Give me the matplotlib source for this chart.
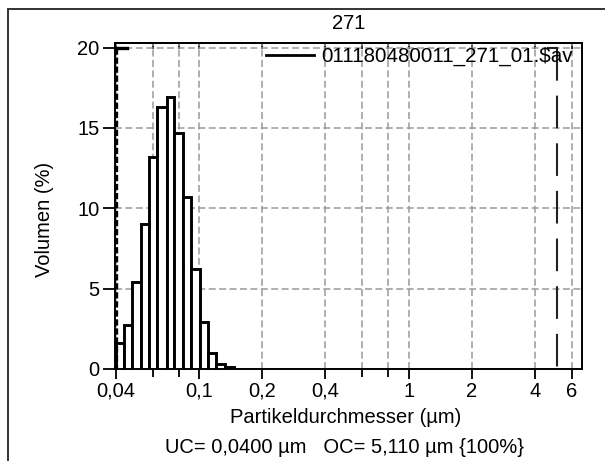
# encoding: utf-8
"""
Particle size distribution (volume %) for sample 271.
"""

import matplotlib
matplotlib.use('Agg')
import matplotlib.pyplot as plt
from matplotlib.patches import Rectangle
from matplotlib.ticker import FixedLocator, NullFormatter

plt.rcParams['font.family'] = ['Liberation Sans', 'DejaVu Sans']
plt.rcParams['lines.scale_dashes'] = False

# Bin edges (µm) and volume per class (%)
bin_edges = [0.040, 0.044, 0.048, 0.053, 0.058, 0.063, 0.070, 0.076,
             0.084, 0.092, 0.101, 0.110, 0.121, 0.133, 0.146]
volume = [1.6, 2.7, 5.4, 9.0, 13.2, 16.3, 16.9, 14.7, 10.7, 6.2, 2.9, 1.0, 0.3, 0.1]

major_ticks = [0.04, 0.1, 0.2, 0.4, 1, 2, 4, 6]
major_labels = ['0,04', '0,1', '0,2', '0,4', '1', '2', '4', '6']
minor_ticks = [0.06, 0.08, 0.6, 0.8]
y_ticks = [0, 5, 10, 15, 20]

uc_value = 0.04
oc_value = 5.11
series_name = '011180480011_271_01.$av'

FS = 14.5

fig = plt.figure(figsize=(6.05, 4.61), dpi=100)
ax = fig.add_axes([0.190, 0.200, 0.772, 0.707])

# histogram bars
lefts = bin_edges[:-1]
widths = [b - a for a, b in zip(bin_edges[:-1], bin_edges[1:])]
ax.bar(lefts, volume, width=widths, align='edge', facecolor='white',
       edgecolor='black', linewidth=2.1, zorder=3)

# UC / OC markers (with small caps at the top)
ax.plot([uc_value, uc_value], [20, 0], color='black', linewidth=2.4,
        linestyle=(0, (4.5, 2)), zorder=4)
ax.plot([uc_value, 0.0455], [20, 20], color='black', linewidth=2.4, zorder=4)
ax.plot([oc_value, oc_value], [20, 0], color='#222222', linewidth=1.5,
        linestyle=(0, (23.5, 10.8)), zorder=4)
ax.plot([4.62, oc_value], [20, 20], color='#222222', linewidth=1.5, zorder=4)

# legend entry
ax.plot([], [], '-', color='black', linewidth=2, label=series_name)
ax.legend(loc='upper right', bbox_to_anchor=(0.998, 1.012), frameon=False,
          handlelength=2.3, handletextpad=0.38, borderaxespad=0.0,
          fontsize=14.8)

ax.set_xscale('log')
ax.set_xlim(0.0397, 6.7)
ax.set_ylim(0, 20.3)

ax.xaxis.set_major_locator(FixedLocator(major_ticks))
ax.set_xticklabels(major_labels)
ax.xaxis.set_minor_locator(FixedLocator(minor_ticks))
ax.xaxis.set_minor_formatter(NullFormatter())
ax.set_yticks(y_ticks)

ax.tick_params(axis='x', which='major', direction='out', length=7.2,
               width=1.3, labelsize=FS, colors='black', pad=2)
ax.tick_params(axis='y', which='major', direction='out', length=8.5,
               width=1.3, labelsize=FS, colors='black', pad=2.5)
ax.tick_params(axis='x', which='minor', direction='out', length=5.8, width=1.3)

# short inward ticks on the top edge
top = ax.secondary_xaxis('top')
top.xaxis.set_major_locator(FixedLocator(major_ticks + minor_ticks))
top.xaxis.set_major_formatter(NullFormatter())
top.xaxis.set_minor_locator(FixedLocator([]))
top.tick_params(which='major', direction='in', length=4, width=1.2)

for s in ax.spines.values():
    s.set_linewidth(1.4)
top.spines['top'].set_linewidth(1.4)

ax.grid(True, which='both', axis='x', color='#9a9a9a', linestyle=(0, (5, 2.5)),
        linewidth=1.1, zorder=0)
ax.grid(True, which='major', axis='y', color='#9a9a9a', linestyle=(0, (5, 2.5)),
        linewidth=1.1, zorder=0)
ax.set_axisbelow(True)

fig.text(0.074, 0.524, 'Volumen (%)', rotation=90, ha='center', va='center',
         fontsize=FS)
fig.text(0.576, 0.948, '271', ha='center', va='center', fontsize=FS)
fig.text(0.572, 0.094, 'Partikeldurchmesser (µm)', ha='center', va='center',
         fontsize=FS)
fig.text(0.569, 0.030, 'UC= 0,0400 µm   OC= 5,110 µm {100%}', ha='center',
         va='center', fontsize=FS)

# outer frame
fig.patches.append(Rectangle((0.0132, -0.05), 1.1, 1.03, transform=fig.transFigure,
                             fill=False, edgecolor='#333333', linewidth=1.4))

fig.savefig('out.png', dpi=100)
